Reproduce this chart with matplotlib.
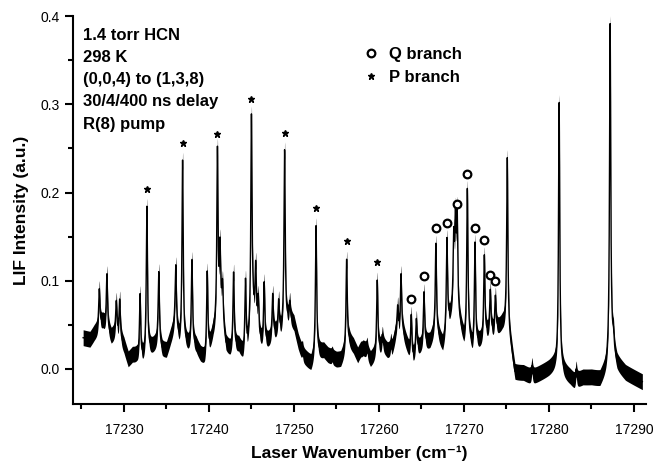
import numpy as np
import matplotlib
matplotlib.use("Agg")
import matplotlib.pyplot as plt
from matplotlib.ticker import MultipleLocator

plt.rcParams['font.family'] = ['Liberation Sans', 'DejaVu Sans']

# baseline of the LIF trace (cm-1, a.u.)
base_x = [17225.2, 17226.0, 17226.5, 17227.0, 17227.5, 17228.0, 17228.5, 17229.0, 17229.5,
          17230.0, 17230.5, 17231.0, 17231.5, 17232.0, 17233.0, 17233.5, 17234.0, 17234.5,
          17235.0, 17235.5, 17236.0, 17236.5, 17237.5, 17238.5, 17239.0, 17239.5, 17240.0,
          17240.5, 17241.5, 17242.0, 17242.5, 17243.5, 17244.0, 17244.5, 17245.2, 17246.0,
          17246.5, 17247.0, 17247.5, 17248.0, 17248.5, 17249.5, 17250.0, 17250.5, 17251.0,
          17251.5, 17252.0, 17252.5, 17253.5, 17254.0, 17255.0, 17255.5, 17256.5, 17257.0,
          17257.5, 17258.0, 17258.5, 17259.0, 17259.5, 17260.5, 17261.0, 17261.5, 17262.0,
          17262.8, 17263.5, 17264.0, 17264.5, 17265.0, 17266.0, 17266.5, 17267.0, 17267.5,
          17268.5, 17269.0, 17269.5, 17270.0, 17270.5, 17271.0, 17271.5, 17272.0, 17272.5,
          17273.0, 17273.5, 17274.0, 17274.5, 17275.0, 17275.6, 17276.0, 17277.0, 17278.0,
          17279.0, 17280.0, 17280.8, 17281.8, 17282.5, 17283.0, 17284.0, 17285.0, 17286.0,
          17286.7, 17287.5, 17288.0, 17289.0, 17290.0, 17291.0]
base_y = [0.035, 0.033, 0.040, 0.045, 0.052, 0.045, 0.035, 0.040, 0.034,
          0.025, 0.010, 0.015, 0.014, 0.008, 0.020, 0.025, 0.030, 0.020,
          0.020, 0.035, 0.048, 0.030, 0.025, 0.024, 0.015, 0.010, 0.020,
          0.040, 0.058, 0.025, 0.020, 0.025, 0.015, 0.020, 0.058, 0.030,
          0.025, 0.030, 0.035, 0.040, 0.040, 0.055, 0.050, 0.030, 0.015,
          0.010, 0.005, 0.015, 0.020, 0.015, 0.010, 0.010, 0.030, 0.025,
          0.015, 0.025, 0.020, 0.010, 0.015, 0.025, 0.020, 0.020, 0.040,
          0.040, 0.020, 0.010, 0.020, 0.025, 0.030, 0.040, 0.035, 0.025,
          0.060, 0.070, 0.050, 0.030, 0.035, 0.020, 0.025, 0.030, 0.035,
          0.040, 0.040, 0.045, 0.050, 0.050, 0.020, -0.005, -0.005, -0.010,
          -0.005, 0.000, 0.005, -0.005, -0.010, -0.015, -0.010, -0.010, -0.012,
          0.000, 0.020, 0.005, -0.005, -0.010, -0.015]

# P branch lines (marked with *)
p_pos = [17232.7, 17236.9, 17241.0, 17245.0, 17248.9, 17252.6, 17256.2, 17259.8]
p_top = [0.192, 0.244, 0.254, 0.294, 0.256, 0.171, 0.133, 0.109]

# Q branch lines (marked with o)
q_pos = [17263.8, 17265.3, 17266.7, 17268.0, 17269.2, 17270.4, 17271.3, 17272.4, 17273.1, 17273.7]
q_top = [0.069, 0.095, 0.150, 0.155, 0.177, 0.211, 0.150, 0.136, 0.096, 0.090]

# other lines in the spectrum, including the small spikes in the baseline
o_pos = [17227.1, 17228.0, 17229.1, 17229.5, 17231.9, 17234.1, 17236.1, 17238.0, 17239.8,
         17241.3, 17241.6, 17242.9, 17244.3, 17245.5, 17245.8, 17246.5, 17247.5, 17248.2,
         17249.5, 17251.0, 17254.5, 17256.5, 17258.0, 17258.6, 17260.4, 17261.4, 17262.2,
         17262.6, 17264.4, 17268.8, 17269.0, 17275.1, 17278.0, 17281.2, 17283.2, 17287.2,
         17287.6]
o_top = [0.099, 0.116, 0.084, 0.086, 0.092, 0.118, 0.124, 0.131, 0.118,
         0.140, 0.100, 0.117, 0.107, 0.121, 0.085, 0.105, 0.092, 0.084,
         0.082, 0.031, 0.025, 0.039, 0.031, 0.035, 0.046, 0.039, 0.078,
         0.115, 0.064, 0.150, 0.165, 0.248, 0.012, 0.311, 0.008, 0.400,
         0.040]

x_ticks = [17230, 17240, 17250, 17260, 17270, 17280, 17290]
info_lines = ["1.4 torr HCN", "298 K", "(0,0,4) to (1,3,8)", "30/4/400 ns delay", "R(8) pump"]

noise = 0.009
hwhm = 0.085


def build_spectrum(x):
    base = np.interp(x, base_x, base_y)
    spec = base.copy()
    for pos, top in zip(p_pos + q_pos + o_pos, p_top + q_top + o_top):
        amp = top - np.interp(pos, base_x, base_y) - noise
        spec += amp * hwhm ** 2 / ((x - pos) ** 2 + hwhm ** 2)
    return spec


def main():
    # fine grid plus the line centres so that every peak top is drawn
    x = np.union1d(np.arange(base_x[0], base_x[-1], 0.01), p_pos + q_pos + o_pos)
    y = build_spectrum(x)

    fig = plt.figure(figsize=(6.57, 4.66), dpi=100)
    ax = fig.add_axes([0.111, 0.133, 0.872, 0.832])

    ax.fill_between(x, y - noise, y + noise, color='black', lw=0)
    ax.plot(x, y, color='black', lw=1.0)

    ax.plot(q_pos, np.array(q_top) + 0.010, 'o', ms=5.5, mfc='white', mec='black', mew=1.6,
            ls='none', label='Q branch')
    ax.plot(p_pos, np.array(p_top) + 0.012, '*', ms=5, color='black', ls='none',
            label='P branch')

    ax.legend(loc='upper left', bbox_to_anchor=(0.48, 0.96), frameon=False,
              handletextpad=0.55, handlelength=1.0, labelspacing=0.5,
              prop={'weight': 'bold', 'size': 12})

    for i, line in enumerate(info_lines):
        ax.text(0.018, 0.95 - i * 0.057, line, transform=ax.transAxes,
                fontsize=12, fontweight='bold', va='center', ha='left')

    ax.set_xlim(17224.0, 17291.4)
    ax.set_ylim(-0.04, 0.40)
    ax.set_xticks(x_ticks)
    ax.xaxis.set_minor_locator(MultipleLocator(5))
    ax.yaxis.set_major_locator(MultipleLocator(0.1))
    ax.yaxis.set_minor_locator(MultipleLocator(0.05))
    ax.yaxis.set_major_formatter(plt.FormatStrFormatter('%.1f'))

    for s in ['top', 'right']:
        ax.spines[s].set_visible(False)
    for s in ['left', 'bottom']:
        ax.spines[s].set_linewidth(1.5)
    ax.tick_params(which='major', direction='out', length=6, width=1.5, labelsize=10)
    ax.tick_params(which='minor', direction='out', length=3.5, width=1.5)
    ax.tick_params(axis='x', which='major', pad=8)

    ax.set_xlabel('Laser Wavenumber (cm\u207b\u00b9)', fontsize=12.5, fontweight='bold',
                  labelpad=6)
    ax.set_ylabel('LIF Intensity (a.u.)', fontsize=12.5, fontweight='bold', labelpad=8)

    fig.savefig('out.png', dpi=100)


if __name__ == "__main__":
    main()
